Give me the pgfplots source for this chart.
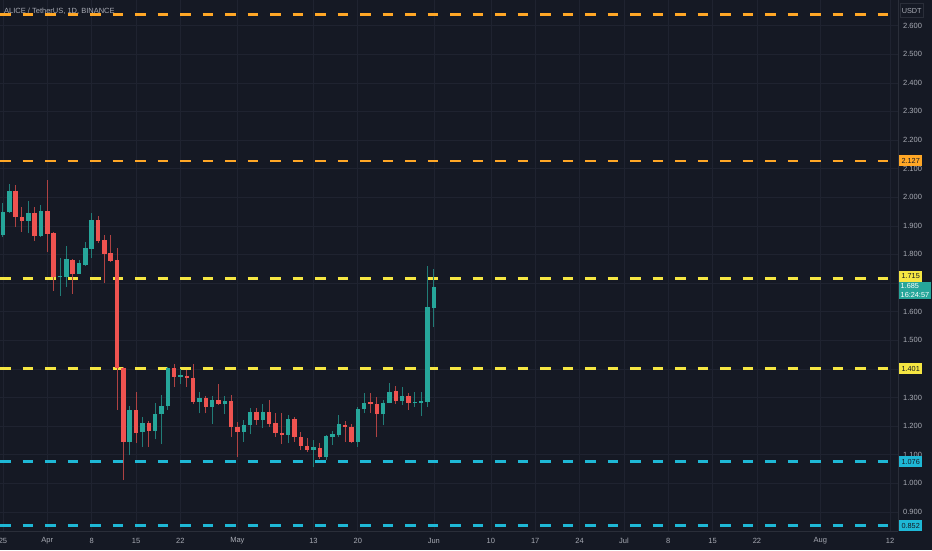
\documentclass[border=0pt]{standalone}
\usepackage{pgfplots}
\pgfplotsset{compat=1.18}
\usepackage{pgfplotstable}
\usepackage{fontspec}
\setmainfont{Liberation Sans}

\definecolor{bgc}{HTML}{151924}
\definecolor{gridc}{HTML}{1F2330}
\definecolor{axisc}{HTML}{2A2E39}
\definecolor{txtc}{HTML}{A8ABB4}
\definecolor{upc}{HTML}{26A69A}
\definecolor{dnc}{HTML}{EF5350}
\definecolor{orc}{HTML}{FFA726}
\definecolor{yec}{HTML}{F5E642}
\definecolor{cyc}{HTML}{1EB8D6}

% daily candles, day 0 = 25 Mar
\pgfplotstableread{
day open high low close
0 1.868 1.980 1.862 1.950
1 1.950 2.047 1.946 2.023
4 1.918 1.988 1.874 1.946
6 1.865 1.973 1.862 1.951
9 1.720 1.787 1.655 1.724
10 1.722 1.829 1.687 1.783
12 1.731 1.780 1.731 1.769
13 1.763 1.844 1.760 1.821
14 1.819 1.944 1.787 1.920
20 1.143 1.271 1.099 1.256
22 1.180 1.233 1.126 1.209
24 1.184 1.279 1.153 1.242
25 1.242 1.308 1.137 1.271
26 1.270 1.407 1.256 1.402
28 1.372 1.398 1.348 1.377
31 1.285 1.320 1.244 1.297
33 1.267 1.305 1.207 1.291
35 1.276 1.305 1.242 1.287
38 1.180 1.221 1.145 1.204
39 1.204 1.263 1.172 1.250
41 1.221 1.277 1.193 1.248
45 1.170 1.238 1.140 1.223
49 1.116 1.151 1.058 1.126
51 1.091 1.169 1.081 1.165
52 1.163 1.184 1.134 1.171
53 1.167 1.238 1.160 1.207
56 1.145 1.267 1.128 1.258
57 1.258 1.314 1.244 1.282
60 1.241 1.291 1.203 1.281
61 1.281 1.351 1.280 1.320
63 1.288 1.337 1.273 1.305
65 1.281 1.320 1.267 1.285
66 1.281 1.320 1.236 1.288
67 1.285 1.759 1.267 1.615
68 1.612 1.748 1.547 1.685
}\upcandles

\pgfplotstableread{
day open high low close
2 2.023 2.043 1.897 1.932
3 1.932 1.966 1.879 1.918
5 1.946 1.965 1.848 1.865
7 1.951 2.060 1.809 1.871
8 1.874 1.880 1.673 1.722
11 1.780 1.784 1.662 1.731
15 1.920 1.934 1.840 1.847
16 1.850 1.868 1.701 1.801
17 1.804 1.868 1.775 1.778
18 1.780 1.821 1.256 1.404
19 1.404 1.408 1.011 1.145
21 1.256 1.320 1.140 1.177
23 1.209 1.219 1.127 1.184
27 1.402 1.417 1.336 1.372
29 1.376 1.396 1.337 1.367
30 1.369 1.417 1.277 1.285
32 1.297 1.305 1.244 1.267
34 1.291 1.347 1.273 1.276
36 1.287 1.308 1.162 1.198
37 1.198 1.215 1.091 1.179
40 1.250 1.263 1.205 1.221
42 1.248 1.291 1.198 1.207
43 1.209 1.244 1.163 1.177
44 1.177 1.244 1.137 1.170
46 1.223 1.233 1.145 1.160
47 1.160 1.180 1.116 1.130
48 1.131 1.157 1.110 1.116
50 1.123 1.140 1.085 1.091
54 1.205 1.219 1.145 1.195
55 1.198 1.207 1.140 1.145
58 1.283 1.314 1.247 1.276
59 1.277 1.302 1.160 1.241
62 1.321 1.340 1.277 1.288
64 1.306 1.314 1.256 1.281
}\dncandles

\tikzset{
  level/.style={line width=2.5pt, dash pattern=on 10.5pt off 12pt},
  lbl/.style={anchor=west, xshift=1pt, inner sep=0pt, minimum width=23pt,
    minimum height=11pt, font=\fontsize{7.3}{8}\selectfont, text=bgc},
}

\begin{document}
\begin{tikzpicture}
\fill[bgc] (0,0) rectangle (932pt,550pt);
\begin{axis}[
  at={(0pt,19pt)}, anchor=south west,
  width=898pt, height=531pt, scale only axis,
  xmin=-0.47, xmax=141.26, ymin=0.833, ymax=2.6895,
  axis x line*=bottom, axis y line*=right,
  axis line style={draw=axisc, line width=0.8pt, -},
  major tick length=0pt,
  grid=major, major grid style={draw=gridc, line width=0.6pt},
  xtick={0,7,14,21,28,37,49,56,68,77,84,91,98,105,112,119,129,140},
  xticklabels={25,Apr,8,15,22,May,13,20,Jun,10,17,24,Jul,8,15,22,Aug,12},
  ytick={0.9,1.0,1.1,1.2,1.3,1.4,1.5,1.6,1.7,1.8,1.9,2.0,2.1,2.2,2.3,2.4,2.5,2.6},
  % 1.400 and 1.700 sit under the price boxes
  yticklabels={0.900,1.000,1.100,1.200,1.300,,1.500,1.600,,1.800,1.900,2.000,2.100,2.200,2.300,2.400,2.500,2.600},
  ticklabel style={font=\fontsize{7.5}{8}\selectfont, text=txtc},
  yticklabel style={anchor=west, inner sep=0pt, xshift=5pt},
  xticklabel style={anchor=center, inner sep=0pt, yshift=-10pt},
  clip mode=individual,
]
% support / resistance levels
\addplot[orc, level] coordinates {(-0.47,2.638) (141.26,2.638)};
\addplot[orc, level] coordinates {(-0.47,2.127) (141.26,2.127)};
\addplot[yec, level] coordinates {(-0.47,1.715) (141.26,1.715)};
\addplot[yec, level] coordinates {(-0.47,1.401) (141.26,1.401)};
\addplot[cyc, level] coordinates {(-0.47,1.076) (141.26,1.076)};
\addplot[cyc, level] coordinates {(-0.47,0.852) (141.26,0.852)};

% wicks
\addplot[upc!70!bgc, line width=1pt, quiver={u=0, v=\thisrow{high}-\thisrow{low}}]
  table[x=day, y=low] {\upcandles};
\addplot[dnc!70!bgc, line width=1pt, quiver={u=0, v=\thisrow{high}-\thisrow{low}}]
  table[x=day, y=low] {\dncandles};
% bodies
\addplot[upc, line width=4.4pt, quiver={u=0, v=\thisrow{close}-\thisrow{open}}]
  table[x=day, y=open] {\upcandles};
\addplot[dnc, line width=4.4pt, quiver={u=0, v=\thisrow{close}-\thisrow{open}}]
  table[x=day, y=open] {\dncandles};

% price scale labels
\node[lbl, fill=orc] at (axis cs:141.26,2.127) {2.127};
\node[lbl, fill=yec, yshift=2.7pt] at (axis cs:141.26,1.715) {1.715};
\node[lbl, fill=yec] at (axis cs:141.26,1.401) {1.401};
\node[lbl, fill=cyc] at (axis cs:141.26,1.076) {1.076};
\node[lbl, fill=cyc] at (axis cs:141.26,0.852) {0.852};
\node[anchor=north west, xshift=1pt, fill=upc, text=white, inner xsep=1.5pt, inner ysep=1.5pt,
  align=left, font=\fontsize{7.3}{9}\selectfont] at (axis cs:141.26,1.7045) {1.685\\16:24:57};
\node[draw=axisc, fill=bgc, text=txtc, inner sep=1.5pt, minimum height=14pt,
  font=\fontsize{7.3}{8}\selectfont] at ([xshift=13.7pt]rel axis cs:1,0.980) {USDT};
\node[anchor=west, inner sep=0pt, text=txtc, font=\fontsize{7.5}{8}\selectfont]
  at ([xshift=4pt]rel axis cs:0,0.9793) {ALICE / TetherUS, 1D, BINANCE};
\end{axis}
\pgfresetboundingbox
\path (0,0) rectangle (932pt,550pt);
\end{tikzpicture}
\end{document}
